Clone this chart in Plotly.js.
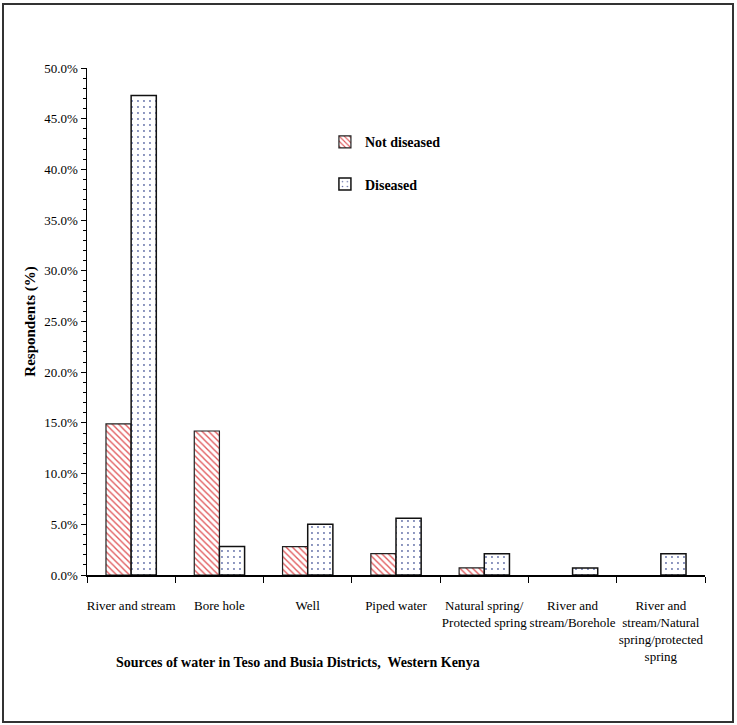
<!DOCTYPE html>
<html>
<head>
<meta charset="utf-8">
<script src="https://cdn.plot.ly/plotly-3.0.1.min.js"></script>
<style>
  body { margin: 0; background: #fff; }
  #wrap { position: relative; width: 737px; height: 725px; }
  #chart { width: 737px; height: 725px; }
  #frame {
    position: absolute; left: 2px; top: 3px; width: 728px; height: 716px;
    border: 2px solid #333; pointer-events: none;
  }
</style>
</head>
<body>
<div id="wrap">
  <div id="chart"></div>
  <div id="frame"></div>
</div>
<script>
const sources = [
    'River and stream',
    'Bore hole',
    'Well',
    'Piped water',
    'Natural spring/<br>Protected spring',
    'River and<br>stream/Borehole',
    'River and<br>stream/Natural<br>spring/protected<br>spring'
];
const notDiseased = [0.149, 0.142, 0.028, 0.021, 0.007, 0, 0];
const diseased = [0.473, 0.028, 0.050, 0.056, 0.021, 0.007, 0.021];

const SERIF = 'Liberation Serif, Times New Roman, serif';

// no outline for empty bars, otherwise they show as a flat line on the axis
const outline = (vals, w) => vals.map(v => v > 0 ? w : 0);

const traces = [
    {
        type: 'bar',
        name: 'Not diseased',
        legendgroup: 'a',
        x: sources,
        y: notDiseased,
        marker: {
            color: 'white',
            line: {color: '#222', width: outline(notDiseased, 1.2)},
            pattern: {shape: '\\', fillmode: 'replace', bgcolor: 'white', fgcolor: '#e0575a', size: 4.5, solidity: 0.3}
        },
        hoverinfo: 'x+y'
    },
    {
        type: 'bar',
        name: 'Diseased',
        legendgroup: 'b',
        x: sources,
        y: diseased,
        marker: {
            color: 'white',
            line: {color: '#111', width: outline(diseased, 1.5)},
            pattern: {shape: '.', fillmode: 'replace', bgcolor: 'white', fgcolor: '#6470a8', size: 6, solidity: 0.08}
        },
        hoverinfo: 'x+y'
    }
];

const layout = {
    width: 737,
    height: 725,
    margin: {l: 87, r: 32, t: 68, b: 150},
    paper_bgcolor: 'white',
    plot_bgcolor: 'white',
    font: {family: SERIF, color: '#000', size: 13},
    barmode: 'group',
    bargap: 0.43,
    bargroupgap: 0,
    showlegend: true,
    legend: {
        x: 0.385, y: 0.885, xanchor: 'left', yanchor: 'top',
        traceorder: 'grouped',
        tracegroupgap: 21,
        font: {family: SERIF, size: 14, weight: 'bold'},
        bgcolor: 'rgba(0,0,0,0)'
    },
    xaxis: {
        type: 'category',
        tickson: 'boundaries',
        ticks: 'outside',
        ticklen: 6,
        tickcolor: '#000',
        showline: true,
        linecolor: '#000',
        linewidth: 1.5,
        showgrid: false,
        tickangle: 0,
        ticklabelstandoff: 18,
        tickfont: {family: SERIF, size: 13}
    },
    yaxis: {
        range: [0, 0.5],
        dtick: 0.05,
        tickformat: '.1%',
        ticks: 'outside',
        ticklen: 5,
        tickcolor: '#000',
        showline: true,
        linecolor: '#000',
        linewidth: 1.5,
        showgrid: false,
        zeroline: false,
        tickfont: {family: SERIF, size: 13},
        minor: {dtick: 0.01, ticks: 'outside', ticklen: 3, tickcolor: '#000'}
    },
    annotations: [
        {
            text: 'Sources of water in Teso and Busia Districts,  Western Kenya',
            xref: 'paper', yref: 'paper', x: 0.341, y: -0.172,
            xanchor: 'center', yanchor: 'middle', showarrow: false,
            font: {family: SERIF, size: 14, weight: 'bold'}
        },
        {
            text: 'Respondents (%)',
            xref: 'paper', yref: 'paper', x: -0.092, y: 0.5,
            xanchor: 'center', yanchor: 'middle', showarrow: false, textangle: -90,
            font: {family: SERIF, size: 15, weight: 'bold'}
        }
    ]
};

Plotly.newPlot('chart', traces, layout, {displayModeBar: false, staticPlot: true});
</script>
</body>
</html>
